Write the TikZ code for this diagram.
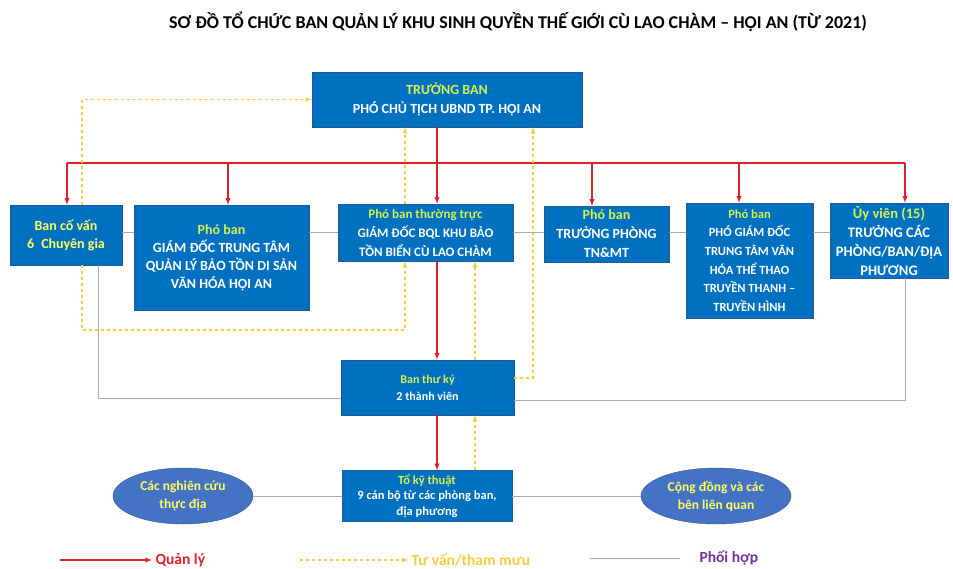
\documentclass[tikz,border=0pt]{standalone}
\usepackage{fontspec}
\setmainfont{Carlito}
\usepackage{xcolor}
\usepackage{tikz}
\usetikzlibrary{positioning,shapes,arrows,calc}

\definecolor{boxblue}{RGB}{0,112,192}
\definecolor{boxedge}{RGB}{30,90,150}
\definecolor{ovalblue}{RGB}{68,114,196}
\definecolor{ovaledge}{RGB}{47,82,143}
\definecolor{hilite}{RGB}{212,242,80}
\definecolor{softyellow}{RGB}{255,255,100}
\definecolor{mgred}{RGB}{222,32,42}
\definecolor{advyellow}{RGB}{245,205,60}
\definecolor{coordgray}{RGB}{168,168,182}
\definecolor{legpurple}{RGB}{112,48,160}

\newcommand{\fs}[2]{\fontsize{#1}{#2}\selectfont}

\begin{document}
\begin{tikzpicture}[x=1pt, y=-1pt,
    box/.style={draw=boxedge, fill=boxblue, text=white, align=center, inner sep=2pt,
        font=\bfseries\fs{14}{18}},
    oval/.style={ellipse, draw=ovaledge, fill=ovalblue, text=softyellow, align=center,
        inner sep=0pt, font=\bfseries\fs{13.5}{18}},
    mgmt/.style={draw=mgred, line width=1.3pt, -latex},
    advise/.style={draw=advyellow, line width=1.1pt, dashed, -latex},
    coord/.style={draw=coordgray, line width=0.9pt},
    legtext/.style={anchor=west, font=\bfseries\fs{15.5}{18}}]
    \useasboundingbox (0,0) rectangle (953,568);

    % Title
    \node[font=\bfseries\fs{18}{21}] (title) at (518,22)
        {SƠ ĐỒ TỔ CHỨC BAN QUẢN LÝ KHU SINH QUYỀN THẾ GIỚI CÙ LAO CHÀM – HỘI AN (TỪ 2021)};

    % Boxes
    \node[box, font=\bfseries\fs{14}{19}, minimum width=270, minimum height=55] (tb) at (447,99.5)
        {\textcolor{hilite}{TRƯỞNG BAN}\\PHÓ CHỦ TỊCH UBND TP. HỘI AN};
    \node[box, text=softyellow, minimum width=112, minimum height=60] (cv) at (66,235)
        {Ban cố vấn\\6\; Chuyên gia};
    \node[box, minimum width=175, minimum height=105] (pb1) at (221.5,257.5)
        {\textcolor{hilite}{Phó ban}\\GIÁM ĐỐC TRUNG TÂM\\QUẢN LÝ BẢO TỒN DI SẢN\\VĂN HÓA HỘI AN};
    \node[box, font=\bfseries\fs{13}{19}, minimum width=175, minimum height=57] (pbtt) at (425.5,232.5)
        {\textcolor{hilite}{Phó ban thường trực}\\GIÁM ĐỐC BQL KHU BẢO\\TỒN BIỂN CÙ LAO CHÀM};
    \node[box, font=\bfseries\fs{14}{19}, minimum width=125, minimum height=56] (pb2) at (606.5,234)
        {\textcolor{hilite}{Phó ban}\\TRƯỞNG PHÒNG\\TN\&MT};
    \node[box, font=\bfseries\fs{12.5}{18.6}, minimum width=127, minimum height=115] (pb3) at (749.5,260.5)
        {\textcolor{hilite}{Phó ban}\\PHÓ GIÁM ĐỐC\\TRUNG TÂM VĂN\\HÓA THỂ THAO\\TRUYỀN THANH –\\TRUYỀN HÌNH};
    \node[box, font=\bfseries\fs{14.5}{19}, minimum width=118, minimum height=75] (uv) at (889,240.5)
        {\textcolor{hilite}{Ủy viên (15)}\\TRƯỞNG CÁC\\PHÒNG/BAN/ĐỊA\\PHƯƠNG};
    \node[box, font=\bfseries\fs{12}{17}, minimum width=173, minimum height=55] (tk) at (427.5,387.5)
        {\textcolor{hilite}{Ban thư ký}\\2 thành viên};
    \node[box, font=\bfseries\fs{12.5}{15.5}, minimum width=170, minimum height=51] (ktv) at (427,496)
        {\textcolor{hilite}{Tổ kỹ thuật}\\9 cán bộ từ các phòng ban,\\địa phương};

    % Ovals
    \node[oval, minimum width=140, minimum height=56] (nc) at (183,496)
        {Các nghiên cứu\\thực địa};
    \node[oval, minimum width=150, minimum height=56] (cd) at (716,496)
        {Cộng đồng và các\\bên liên quan};

    % Management (red)
    \coordinate (b1) at (67,163);
    \coordinate (b2) at (228,163);
    \coordinate (b3) at (437,163);
    \coordinate (b4) at (592,163);
    \coordinate (b5) at (739,163);
    \coordinate (b6) at (905,163);
    \draw[mgmt, -] (b1) -- (b6);
    \foreach \b/\n in {b1/cv, b2/pb1, b4/pb2, b5/pb3, b6/uv}
        \draw[mgmt] (\b) -- (\b |- \n.north);
    \draw[mgmt] (tb.south -| b3) -- (b3 |- pbtt.north);
    \draw[mgmt] (pbtt.south -| b3) -- (b3 |- tk.north);
    \draw[mgmt] (tk.south -| b3) -- (b3 |- ktv.north);

    % Advice (yellow dashed)
    \coordinate (ad1) at (82,330);
    \coordinate (ad2) at (405,330);
    \coordinate (ad3) at (533,378);
    \coordinate (ad4) at (475,0);
    \draw[advise] (cv.north -| ad1) |- (tb.west);
    \draw[advise] (cv.south -| ad1) -- (ad1) -- (ad2) -- (pbtt.south -| ad2);
    \draw[advise] (pbtt.north -| ad2) -- (tb.south -| ad2);
    \draw[advise] (tk.east |- ad3) -- (ad3) -- (tb.south -| ad3);
    \draw[advise] (tk.north -| ad4) -- (pbtt.south -| ad4);
    \draw[advise] (ktv.north -| ad4) -- (tk.south -| ad4);

    % Coordination (gray)
    \coordinate (h) at (0,232);
    \foreach \a/\b in {cv/pb1, pb1/pbtt, pbtt/pb2, pb2/pb3, pb3/uv}
        \draw[coord] (\a.east |- h) -- (\b.west |- h);
    \coordinate (g1) at (98,398);
    \coordinate (g2) at (905,400);
    \draw[coord] (cv.south -| g1) -- (g1) -- (tk.west |- g1);
    \draw[coord] (uv.south -| g2) -- (g2) -- (tk.east |- g2);
    \draw[coord] (nc.east) -- (ktv.west);
    \draw[coord] (ktv.east) -- (cd.west);

    % Legend
    \coordinate (lg1) at (60,560);
    \coordinate (lg2) at (300,560);
    \coordinate (lg3) at (590,558);
    \node[legtext, text=mgred] (lt1) at (152,560) {Quản lý};
    \node[legtext, text=advyellow] (lt2) at (408,560) {Tư vấn/tham mưu};
    \node[legtext, text=legpurple] (lt3) at (696,558) {Phối hợp};
    \draw[mgmt] (lg1) -- (lt1.west);
    \draw[advise] (lg2) -- (lt2.west);
    \draw[coord] (lg3) -- ++(90,0) coordinate (lg4);
\end{tikzpicture}
\end{document}
